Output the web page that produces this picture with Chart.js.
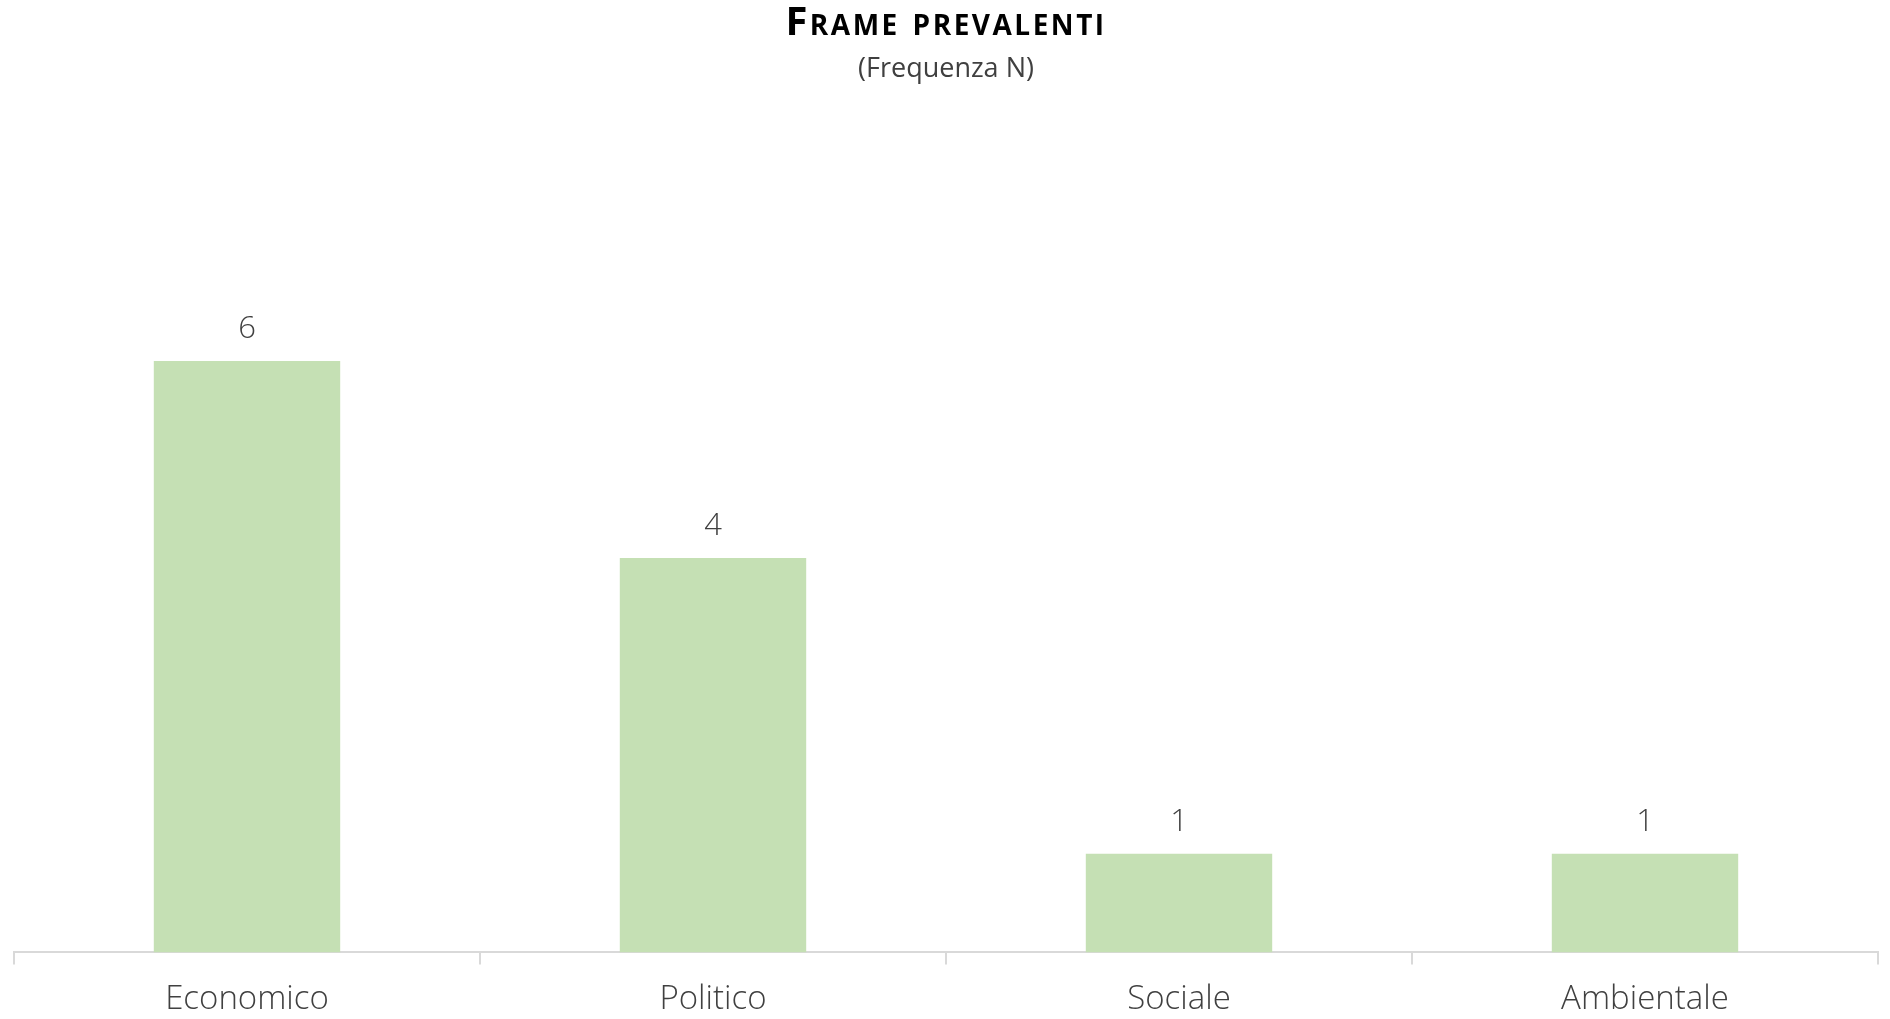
<!DOCTYPE html>
<html>
<head>
<meta charset="utf-8">
<script src="https://cdn.jsdelivr.net/npm/chart.js@4/dist/chart.umd.min.js"></script>
<style>
  html, body { margin: 0; padding: 0; background: #fff; }
  #wrap { width: 1890px; height: 1019px; }
</style>
</head>
<body>
<div id="wrap"><canvas id="frameChart"></canvas></div>
<script>
// Dati
const categories = ['Economico', 'Politico', 'Sociale', 'Ambientale'];
const frequenze = [6, 4, 1, 1];
const titolo = 'Frame prevalenti';
const sottotitolo = '(Frequenza N)';

const barColor = '#c5e0b4';
const axisColor = '#d9d9d9';
const textColor = '#404040';

// Titolo in maiuscoletto (il titolo di Chart.js non gestisce small-caps)
const smallCapsTitle = {
    id: 'smallCapsTitle',
    afterDraw(chart) {
        const ctx = chart.ctx;
        ctx.save();
        ctx.font = 'bold 40px "Open Sans"';
        ctx.fontVariantCaps = 'small-caps';
        ctx.letterSpacing = '2.5px';
        ctx.fillStyle = '#000';
        ctx.textAlign = 'center';
        ctx.textBaseline = 'alphabetic';
        ctx.fillText(titolo, chart.width / 2 + 1, 35);
        ctx.restore();
    }
};

// Etichette dei valori sopra le barre
const valueLabels = {
    id: 'valueLabels',
    afterDatasetsDraw(chart) {
        const ctx = chart.ctx;
        const meta = chart.getDatasetMeta(0);
        ctx.save();
        ctx.font = '300 31px "Open Sans"';
        ctx.fillStyle = textColor;
        ctx.textAlign = 'center';
        ctx.textBaseline = 'middle';
        meta.data.forEach((bar, i) => {
            ctx.fillText(String(chart.data.datasets[0].data[i]), bar.x, bar.y - 32);
        });
        ctx.restore();
    }
};

new Chart(document.getElementById('frameChart'), {
    type: 'bar',
    data: {
        labels: categories,
        datasets: [{
            data: frequenze,
            backgroundColor: barColor,
            borderWidth: 0,
            barPercentage: 0.4,
            categoryPercentage: 1
        }]
    },
    options: {
        responsive: true,
        maintainAspectRatio: false,
        animation: false,
        layout: {
            padding: { left: 14, right: 12, top: 0, bottom: -15 }
        },
        plugins: {
            legend: { display: false },
            tooltip: { enabled: false },
            title: { display: false },
            subtitle: {
                display: true,
                text: sottotitolo,
                color: textColor,
                font: { family: '"Open Sans"', size: 27 },
                padding: { top: 53, bottom: 177 }
            }
        },
        scales: {
            x: {
                grid: {
                    display: true,
                    drawOnChartArea: false,
                    drawTicks: true,
                    tickLength: 12,
                    color: axisColor,
                    lineWidth: 2
                },
                border: { display: true, color: axisColor, width: 2 },
                ticks: {
                    color: textColor,
                    padding: 15,
                    font: { family: '"Open Sans"', size: 33, weight: 300 }
                }
            },
            y: {
                display: false,
                min: 0,
                max: 7
            }
        }
    },
    plugins: [valueLabels, smallCapsTitle]
});
</script>
</body>
</html>
